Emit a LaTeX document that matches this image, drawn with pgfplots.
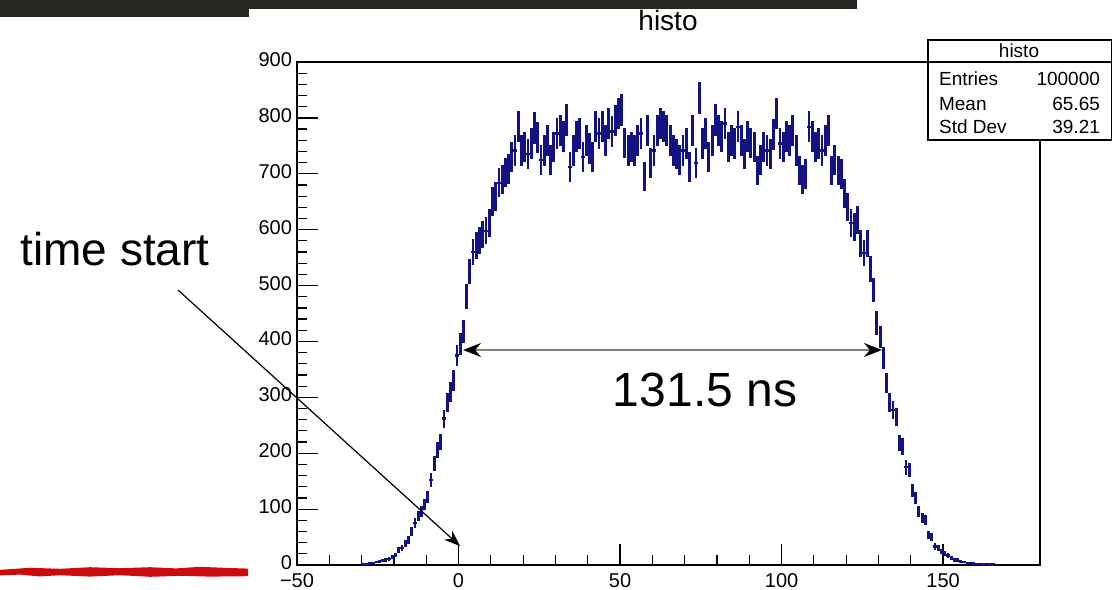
\documentclass[border=0pt]{standalone}
\usepackage{pgfplots}
\usepackage{pgfplotstable}
\pgfplotsset{compat=1.18}
\usepackage{fontspec}
\setmainfont{Liberation Sans}
\usetikzlibrary{arrows.meta}
\definecolor{histblue}{RGB}{18,18,130}
\definecolor{darkbar}{RGB}{38,38,32}
\definecolor{brushred}{RGB}{205,10,10}

\pgfplotstableread{
x y
-29.5 1
-28.5 2
-27.5 3
-26.5 4
-25.5 5
-24.5 6
-23.5 8
-22.5 9
-21.5 11
-20.5 14
-19.5 18
-18.5 27
-17.5 30
-16.5 38
-15.5 45
-14.5 60
-13.5 75
-12.5 88
-11.5 96
-10.5 108
-9.5 122
-8.5 152
-7.5 182
-6.5 206
-5.5 220
-4.5 262
-3.5 290
-2.5 310
-1.5 330
-0.5 375
0.5 395
1.5 418
2.5 480
3.5 525
4.5 560
5.5 572
6.5 580
7.5 592
8.5 598
9.5 612
10.5 650
11.5 660
12.5 684
13.5 690
14.5 702
15.5 708
16.5 730
17.5 742
18.5 785
19.5 742
20.5 748
21.5 735
22.5 754
23.5 782
24.5 765
25.5 725
26.5 742
27.5 760
28.5 725
29.5 748
30.5 772
31.5 778
32.5 766
33.5 796
34.5 712
35.5 742
36.5 766
37.5 772
38.5 730
39.5 760
40.5 745
41.5 730
42.5 784
43.5 772
44.5 784
45.5 760
46.5 790
47.5 776
48.5 795
49.5 808
50.5 814
51.5 755
52.5 742
53.5 748
54.5 742
55.5 760
56.5 772
57.5 695
58.5 778
59.5 719
60.5 742
61.5 778
62.5 790
63.5 785
64.5 778
65.5 760
66.5 742
67.5 735
68.5 725
69.5 742
70.5 754
71.5 712
72.5 778
73.5 719
74.5 835
75.5 754
76.5 772
77.5 730
78.5 760
79.5 796
80.5 778
81.5 766
82.5 790
83.5 748
84.5 760
85.5 754
86.5 784
87.5 760
88.5 736
89.5 766
90.5 755
91.5 748
92.5 706
93.5 724
94.5 748
95.5 742
96.5 736
97.5 770
98.5 808
99.5 754
100.5 748
101.5 766
102.5 760
103.5 778
104.5 742
105.5 706
106.5 690
107.5 700
108.5 784
109.5 766
110.5 748
111.5 754
112.5 742
113.5 760
114.5 778
115.5 706
116.5 724
117.5 706
118.5 700
119.5 665
120.5 640
121.5 612
122.5 605
123.5 617
124.5 575
125.5 558
126.5 576
127.5 530
128.5 492
129.5 433
130.5 408
131.5 370
132.5 325
133.5 290
134.5 277
135.5 265
136.5 218
137.5 212
138.5 175
139.5 170
140.5 134
141.5 120
142.5 96
143.5 84
144.5 80
145.5 54
146.5 50
147.5 33
148.5 30
149.5 24
150.5 21
151.5 17
152.5 12
153.5 9
154.5 9
155.5 7
156.5 5
157.5 4
158.5 4
159.5 3
160.5 2
161.5 2
162.5 1
163.5 2
164.5 1
165.5 1
}\histo

\begin{document}
\begin{tikzpicture}
\useasboundingbox (0,0) rectangle (556pt,294.5pt);
% decorations from the slide
\fill[darkbar] (0,290pt) rectangle (428.5pt,294.5pt);
\fill[darkbar] (0,286pt) rectangle (124.5pt,294.5pt);
\fill[brushred] (0,6.8pt) -- (10pt,7.2pt) -- (20pt,6.3pt) -- (30pt,6.9pt) -- (45pt,6.2pt) -- (60pt,6.9pt) -- (75pt,6.1pt) -- (90pt,6.6pt) -- (105pt,6.2pt) -- (124pt,6.4pt) -- (124pt,10.2pt) -- (112pt,10.6pt) -- (100pt,11.1pt) -- (88pt,10.3pt) -- (75pt,10.9pt) -- (60pt,10.4pt) -- (45pt,10.9pt) -- (30pt,10.1pt) -- (15pt,10.6pt) -- (0,9.6pt) -- cycle;

\begin{axis}[
  at={(148.5pt,12pt)}, anchor=south west,
  scale only axis, width=371.5pt, height=251.5pt,
  xmin=-50, xmax=180, ymin=0, ymax=900,
  xtick={-50,0,50,100,150},
  xticklabels={−50,0,50,100,150},
  ytick={0,100,...,900},
  minor x tick num=4, minor y tick num=4,
  tick align=inside, tick pos=left,
  major tick length=10.5pt, minor tick length=5pt,
  axis line style={line width=0.8pt},
  tick style={line width=0.6pt, black},
  ticklabel style={font=\fontsize{10}{12}\selectfont},
  /pgf/number format/assume math mode=true,
  scaled ticks=false,
  xticklabel style={yshift=-0.5pt},
  yticklabel style={xshift=1pt, yshift=1.2pt},
]
\addplot[histblue, only marks, mark=-, mark size=0.8pt, mark options={line width=1.2pt},
  error bars/.cd, y dir=both, y explicit, error mark=none,
  error bar style={line width=1.4pt, histblue}]
  table[x=x, y=y, y error expr={sqrt(\thisrow{y})}] {\histo};
\end{axis}

% title
\node[font=\fontsize{14}{16}\selectfont] at (334pt,284.5pt) {histo};

% stats box
\draw[line width=0.6pt, fill=white] (464pt,224.5pt) rectangle (555.7pt,274.5pt);
\draw[line width=0.6pt] (464pt,263.5pt) -- (555.7pt,263.5pt);
\node[font=\fontsize{9.5}{11}\selectfont] at (509.5pt,269pt) {histo};
\node[font=\fontsize{9.5}{11}\selectfont, anchor=west] at (466pt,255pt) {Entries};
\node[font=\fontsize{9.5}{11}\selectfont, anchor=east] at (553.5pt,255pt) {100000};
\node[font=\fontsize{9.5}{11}\selectfont, anchor=west] at (466pt,242.5pt) {Mean};
\node[font=\fontsize{9.5}{11}\selectfont, anchor=east] at (553.5pt,242.5pt) {65.65};
\node[font=\fontsize{9.5}{11}\selectfont, anchor=west] at (466pt,231pt) {Std Dev};
\node[font=\fontsize{9.5}{11}\selectfont, anchor=east] at (553.5pt,231pt) {39.21};

% annotations
\node[font=\fontsize{23}{26}\selectfont] at (57.5pt,170pt) {time start};
\draw[line width=0.6pt, -{Stealth[length=8pt,width=6pt]}] (89pt,149.5pt) -- (230pt,21.5pt);
\draw[gray, line width=0.8pt, {Stealth[black,length=9pt,width=7pt]}-{Stealth[black,length=9pt,width=7pt]}] (231.5pt,119.5pt) -- (441pt,119.5pt);
\node[font=\fontsize{24}{28}\selectfont] at (352.5pt,99.5pt) {131.5 ns};
\end{tikzpicture}
\end{document}
